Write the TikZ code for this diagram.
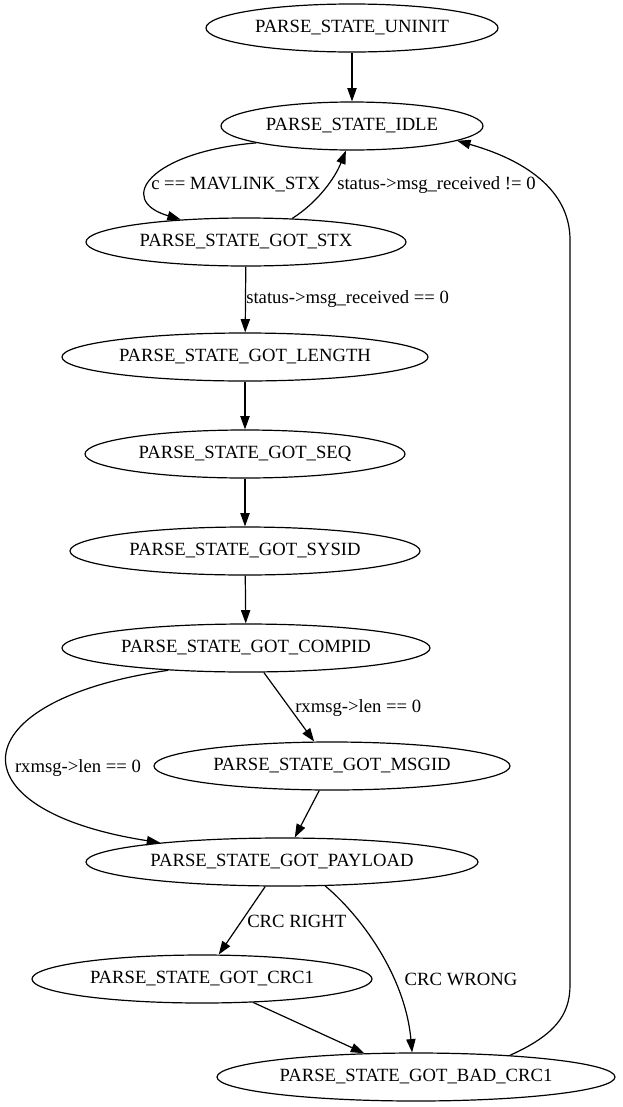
\documentclass[tikz,border=0pt]{standalone}
\usepackage{fontspec}
\setmainfont{Liberation Serif}
\usetikzlibrary{shapes.geometric,arrows.meta}
\begin{document}
\begin{tikzpicture}[x=0.75pt,y=-0.75pt,
  state/.style={ellipse,draw,line width=0.9pt,inner xsep=-30pt,inner ysep=-10pt,minimum height=36pt,font=\fontsize{14pt}{16pt}\selectfont},
  edge/.style={line width=0.9pt,-{Triangle[length=10pt,width=7pt]}},
  lbl/.style={font=\fontsize{14pt}{16pt}\selectfont,inner sep=0pt}]
\useasboundingbox (0,0) rectangle (622,1107);
\node[state,minimum width=219pt]   (uninit)  at (352,28)   {PARSE\_STATE\_UNINIT};
\node[state,minimum width=196.5pt] (idle)    at (352,126)  {PARSE\_STATE\_IDLE};
\node[state,minimum width=240pt]   (stx)     at (246,242)  {PARSE\_STATE\_GOT\_STX};
\node[state,minimum width=274.5pt] (length)  at (245,357)  {PARSE\_STATE\_GOT\_LENGTH};
\node[state,minimum width=240pt]   (seq)     at (245,454)  {PARSE\_STATE\_GOT\_SEQ};
\node[state,minimum width=262.5pt] (sysid)   at (245,551)  {PARSE\_STATE\_GOT\_SYSID};
\node[state,minimum width=276pt]   (compid)  at (246,648)  {PARSE\_STATE\_GOT\_COMPID};
\node[state,minimum width=267pt]   (msgid)   at (332,766)  {PARSE\_STATE\_GOT\_MSGID};
\node[state,minimum width=294pt]   (payload) at (282,862)  {PARSE\_STATE\_GOT\_PAYLOAD};
\node[state,minimum width=255pt]   (crc1)    at (202,979)  {PARSE\_STATE\_GOT\_CRC1};
\node[state,minimum width=298.5pt] (bad)     at (416,1077) {PARSE\_STATE\_GOT\_BAD\_CRC1};

\draw[edge] (uninit) -- (idle);
\draw[edge] (idle.190) .. controls (150,152) and (115,200) .. (stx.161);
\node[lbl,anchor=west] (l1) at (151,185) {c == MAVLINK\_STX};
\draw[edge] (stx.27) .. controls (318,202) and (335,178) .. (idle.256);
\node[lbl,anchor=west] (l2) at (337,185) {status->msg\_received != 0};
\draw[edge] (stx) -- (length);
\node[lbl,anchor=west] (l3) at (246,299) {status->msg\_received == 0};
\draw[edge] (length) -- (seq);
\draw[edge] (seq) -- (sysid);
\draw[edge] (sysid) -- (compid);
\draw[edge] (compid) -- (msgid);
\node[lbl,anchor=west] (l4) at (295,708) {rxmsg->len == 0};
\draw[edge] (compid.196) .. controls (-40,700) and (-50,810) .. (payload.171);
\node[lbl] (l5) at (78,768) {rxmsg->len == 0};
\draw[edge] (msgid) -- (payload);
\draw[edge] (payload) -- (crc1);
\node[lbl,anchor=west] (l6) at (247,921) {CRC RIGHT};
\draw[edge] (payload.331) .. controls (360,915) and (405,975) .. (bad.99);
\node[lbl] (l7) at (461,979) {CRC WRONG};
\draw[edge] (crc1) -- (bad);
\coordinate (r1) at (570,985);
\coordinate (r2) at (570,240);
\draw[edge] (bad.13) .. controls (555,1035) and (570,1015) .. (r1) -- (r2) .. controls (570,190) and (525,160) .. (idle.352);
\end{tikzpicture}
\end{document}
